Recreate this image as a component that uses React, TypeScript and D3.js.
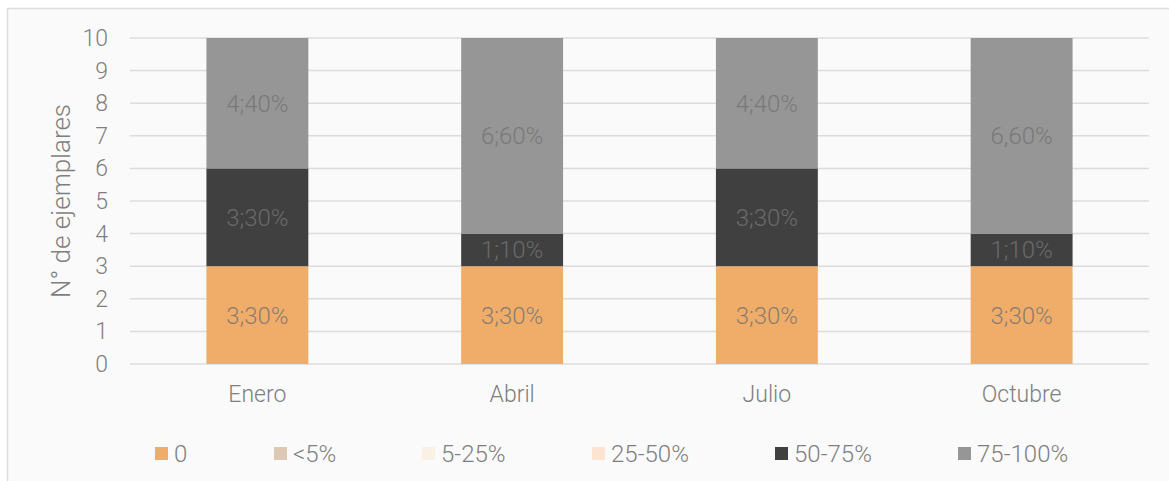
import React, { useEffect, useRef } from "react";
import { select, scaleBand, scaleLinear, stack, range } from "d3";

// data
const months = ["Enero", "Abril", "Julio", "Octubre"];
const seriesNames = ["0", "<5%", "5-25%", "25-50%", "50-75%", "75-100%"];
const seriesColors = ["#F0AD69", "#DDC8B4", "#FBF0E6", "#FCE4D0", "#404040", "#969696"];
const valZero = [3, 3, 3, 3];
const valLt5 = [0, 0, 0, 0];
const val5to25 = [0, 0, 0, 0];
const val25to50 = [0, 0, 0, 0];
const val50to75 = [3, 1, 3, 1];
const val75to100 = [4, 6, 4, 6];
const labelsZero = ["3;30%", "3;30%", "3;30%", "3;30%"];
const labels50to75 = ["3;30%", "1;10%", "3;30%", "1;10%"];
const labels75to100 = ["4;40%", "6;60%", "4;40%", "6,60%"];
const yTicks = [0, 1, 2, 3, 4, 5, 6, 7, 8, 9, 10];

const allValues = [valZero, valLt5, val5to25, val25to50, val50to75, val75to100];
const allLabels = [labelsZero, null, null, null, labels50to75, labels75to100];

const W = 1169;
const H = 481;
const FONT = "Roboto, sans-serif";

export default function App() {
  const ref = useRef<SVGSVGElement>(null);

  useEffect(() => {
    const svg = select(ref.current);
    svg.selectAll("*").remove();

    // chart area box
    svg.append("rect")
      .attr("x", 7.5).attr("y", 8.5)
      .attr("width", W + 20).attr("height", H + 20)
      .attr("fill", "#fafafa").attr("stroke", "#dedede").attr("stroke-width", 1.5);

    const left = 130, right = 1149, top = 38, bottom = 364;
    const x = scaleBand().domain(months).range([left, right]).padding(0);
    const y = scaleLinear().domain([0, 10]).range([bottom, top]);
    const barW = x.bandwidth() * 0.4;

    const g = svg.append("g");

    // gridlines
    g.selectAll("line.grid")
      .data(yTicks)
      .join("line")
      .attr("x1", left).attr("x2", right)
      .attr("y1", (d) => y(d)).attr("y2", (d) => y(d))
      .attr("stroke", "#dcdcdc").attr("stroke-width", 1.5);

    // y tick labels
    g.selectAll("text.ytick")
      .data(yTicks)
      .join("text")
      .attr("x", 108).attr("y", (d) => y(d))
      .attr("dy", "0.35em")
      .attr("text-anchor", "end")
      .attr("font-family", FONT).attr("font-weight", 300)
      .attr("font-size", 23).attr("fill", "#7f7f7f")
      .text((d) => d);

    // y axis title
    g.append("text")
      .attr("transform", `translate(70, ${(top + bottom) / 2}) rotate(-90)`)
      .attr("text-anchor", "middle")
      .attr("font-family", FONT).attr("font-weight", 300)
      .attr("font-size", 26).attr("fill", "#7f7f7f")
      .text("N° de ejemplares");

    // stacked bars
    const rows = months.map((m, i) => {
      const r: Record<string, number | string> = { month: m };
      seriesNames.forEach((s, k) => (r[s] = allValues[k][i]));
      return r;
    });
    const stacked = stack<Record<string, number | string>>().keys(seriesNames)(rows);

    stacked.forEach((layer, k) => {
      const lg = g.append("g");
      lg.selectAll("rect")
        .data(layer)
        .join("rect")
        .attr("x", (d) => (x(d.data.month as string) || 0) + (x.bandwidth() - barW) / 2)
        .attr("y", (d) => y(d[1]))
        .attr("width", barW)
        .attr("height", (d) => y(d[0]) - y(d[1]))
        .attr("fill", seriesColors[k]);

      const labs = allLabels[k];
      if (labs) {
        lg.selectAll("text")
          .data(layer)
          .join("text")
          .attr("x", (d) => (x(d.data.month as string) || 0) + x.bandwidth() / 2)
          .attr("y", (d) => (y(d[0]) + y(d[1])) / 2)
          .attr("dy", "0.35em")
          .attr("text-anchor", "middle")
          .attr("font-family", FONT).attr("font-weight", 300)
          .attr("font-size", 24).attr("fill", "#737373").attr("fill-opacity", 0.85)
          .text((_, i) => labs[i]);
      }
    });

    // category labels
    g.selectAll("text.xtick")
      .data(months)
      .join("text")
      .attr("x", (d) => (x(d) || 0) + x.bandwidth() / 2)
      .attr("y", 394).attr("dy", "0.35em")
      .attr("text-anchor", "middle")
      .attr("font-family", FONT).attr("font-weight", 300)
      .attr("font-size", 23).attr("fill", "#7f7f7f")
      .text((d) => d);

    // legend
    const legendX = [155, 274, 422, 592, 775, 958];
    const lgd = g.selectAll("g.legend")
      .data(range(seriesNames.length))
      .join("g")
      .attr("transform", (k) => `translate(${legendX[k]}, 453.5)`);
    lgd.append("rect")
      .attr("x", 0).attr("y", -6.5).attr("width", 13).attr("height", 13)
      .attr("fill", (k) => seriesColors[k]);
    lgd.append("text")
      .attr("x", 19).attr("y", 0).attr("dy", "0.35em")
      .attr("font-family", FONT).attr("font-weight", 300)
      .attr("font-size", 24).attr("fill", "#7f7f7f")
      .text((k) => seriesNames[k]);
  }, []);

  return (
    <div style={{ position: "fixed", left: 0, top: 0, width: W, height: H, background: "#fff" }}>
      <svg ref={ref} width={W} height={H} style={{ display: "block" }} />
    </div>
  );
}
